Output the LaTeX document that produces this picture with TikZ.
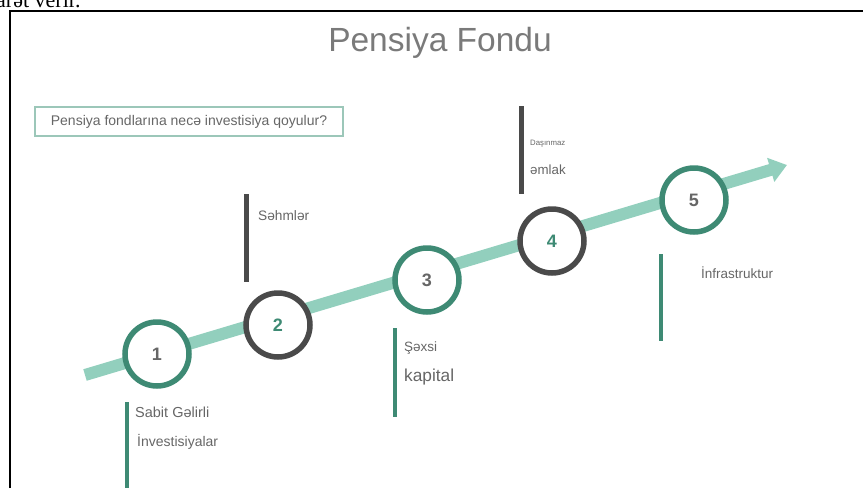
\documentclass[tikz,border=0pt]{standalone}
\usepackage{fontspec}
\setmainfont{Liberation Sans}
\newfontfamily\serifface{Liberation Serif}
\usetikzlibrary{arrows.meta}
\definecolor{tealdark}{HTML}{3E8A74}
\definecolor{teallight}{HTML}{92CFBD}
\definecolor{graydark}{HTML}{4A4A4A}
\definecolor{txtgray}{HTML}{666666}
\definecolor{titlegray}{HTML}{7A7A7A}
\definecolor{boxline}{HTML}{9CC7B9}
\tikzset{
  stepcircle/.style={circle, draw=#1, line width=5.5pt, fill=white, minimum size=64pt, inner sep=0pt, font=\bfseries\fontsize{18}{18}\selectfont},
  tealbar/.style={draw=tealdark, line width=4.5pt},
  graybar/.style={draw=graydark, line width=5pt},
  lbl/.style={anchor=base west, inner sep=0pt, text=txtgray},
}
\begin{document}
\begin{tikzpicture}[x=1pt,y=-1pt]
\useasboundingbox (0,0) rectangle (863,488);
% top clipped text of surrounding document
\begin{scope}
\clip (0,0) rectangle (200,9);
\node[anchor=base west, inner sep=0pt, font=\serifface\fontsize{22}{22}\selectfont] (toptext) at (-4,7) {arət verir.};
\end{scope}
% frame
\draw[line width=1.4pt] (10,488) -- (10,11) -- (863,11);
% title
\node[anchor=base, inner sep=0pt, text=titlegray, font=\fontsize{33.5}{33.5}\selectfont] (title) at (440,51) {Pensiya Fondu};
% question box
\node[draw=boxline, line width=1.2pt, minimum width=308pt, minimum height=29pt, inner sep=0pt, text=txtgray, font=\fontsize{14}{14}\selectfont] (question) at (189,121.5) {Pensiya fondlarına necə investisiya qoyulur?};
% timeline arrow
\coordinate (start) at (85,375);
\coordinate (end) at (787,165);
\draw[teallight, line width=12pt, -{Triangle[width=24pt,length=17pt]}] (start) -- (end);
% circles
\node[stepcircle=tealdark, text=txtgray] (c1) at (157,354) {1};
\node[stepcircle=graydark, text=tealdark] (c2) at (278,325) {2};
\node[stepcircle=tealdark, text=txtgray] (c3) at (427,280) {3};
\node[stepcircle=graydark, text=tealdark] (c4) at (552,241) {4};
\node[stepcircle=tealdark, text=txtgray] (c5) at (694,200) {5};
% bars
\coordinate (b1t) at (127,402); \coordinate (b1b) at (127,488);
\draw[tealbar] (b1t) -- (b1b);
\coordinate (b2t) at (246,194); \coordinate (b2b) at (246,282);
\draw[graybar] (b2t) -- (b2b);
\coordinate (b3t) at (395,328); \coordinate (b3b) at (395,417);
\draw[tealbar] (b3t) -- (b3b);
\coordinate (b4t) at (521,106); \coordinate (b4b) at (521,194);
\draw[graybar] (b4t) -- (b4b);
\coordinate (b5t) at (661,254); \coordinate (b5b) at (661,341);
\draw[tealbar] (b5t) -- (b5b);
% labels
\node[lbl, font=\fontsize{14.5}{14.5}\selectfont] (l1a) at (135,417) {Sabit Gəlirli};
\node[lbl, font=\fontsize{14}{14}\selectfont] (l1b) at (137,446.5) {İnvestisiyalar};
\node[lbl, font=\fontsize{13.7}{13.7}\selectfont] (l2) at (258,220) {Səhmlər};
\node[lbl, font=\fontsize{13.5}{13.5}\selectfont] (l3a) at (404,351.5) {Şəxsi};
\node[lbl, font=\fontsize{17.3}{17.3}\selectfont] (l3b) at (404,381.5) {kapital};
\node[lbl, font=\fontsize{7.8}{7.8}\selectfont] (l4a) at (530,145.5) {Daşınmaz};
\node[lbl, font=\fontsize{13.3}{13.3}\selectfont] (l4b) at (530,174) {əmlak};
\node[lbl, font=\fontsize{13.5}{13.5}\selectfont] (l5) at (701,278) {İnfrastruktur};
\end{tikzpicture}
\end{document}
